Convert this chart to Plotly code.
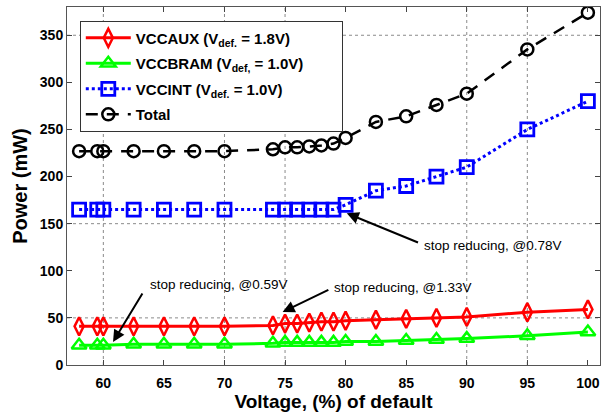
import plotly.graph_objects as go

voltage = [58, 59.5, 60, 62.5, 65, 67.5, 70, 74, 75, 76, 77, 78, 79, 80, 82.5, 85, 87.5, 90, 95, 100]
vccaux = [41, 41, 41, 41, 41, 41, 41, 42, 44, 44, 45, 46, 46, 47, 48, 49, 50, 51, 56, 59]
vccbram = [21, 21, 21, 22, 22, 22, 22, 23, 24, 24, 24, 24, 24, 25, 25, 26, 27, 28, 31, 35]
vccint = [165, 165, 165, 165, 165, 165, 165, 165, 165, 165, 165, 165, 165, 170, 185, 190, 200, 210, 250, 280]
total = [227, 227, 227, 227, 227, 227, 227, 229, 231, 231, 232, 233, 235, 241, 258, 264, 276, 288, 335, 374]

x_ticks = [60, 65, 70, 75, 80, 85, 90, 95, 100]
y_ticks = [0, 50, 100, 150, 200, 250, 300, 350]
x_grid = [60, 70, 75, 90, 95]
y_grid = [50, 150, 350]

notes = ["stop reducing, @0.78V", "stop reducing, @0.59V", "stop reducing, @1.33V"]
note_pos = [(86.3, 127), (63.7, 85), (78.9, 82)]
arrow_tail = [(86.1, 129.4), (63.3, 77.4), (78.7, 80.6)]
arrow_tip = [(80.1, 161), (60.8, 24.4), (74.8, 56.2)]

FONT = "Arial, Liberation Sans, sans-serif"
PAD = "&nbsp;" * 8

fig = go.Figure()
fig.add_trace(go.Scatter(
    x=voltage, y=vccaux, mode="lines+markers", legendgroup="a",
    name="VCCAUX (V<sub>def.</sub> = 1.8V)",
    line=dict(color="#ff0000", width=3),
    marker=dict(symbol="diamond-tall-open", size=13, color="#ff0000", line=dict(width=2.5, color="#ff0000")),
))
fig.add_trace(go.Scatter(
    x=voltage, y=vccbram, mode="lines+markers", legendgroup="b",
    name="VCCBRAM (V<sub>def,</sub> = 1.0V)" + PAD,
    line=dict(color="#00ff00", width=3),
    marker=dict(symbol="triangle-up-open", size=13, color="#00ff00", line=dict(width=2.5, color="#00ff00")),
))
fig.add_trace(go.Scatter(
    x=voltage, y=vccint, mode="lines+markers", legendgroup="c",
    name="VCCINT (V<sub>def.</sub> = 1.0V)",
    line=dict(color="#0000ff", width=3, dash="dot"),
    marker=dict(symbol="square-open", size=13, color="#0000ff", line=dict(width=2.8, color="#0000ff")),
))
fig.add_trace(go.Scatter(
    x=voltage, y=total, mode="lines+markers", legendgroup="d",
    name="Total",
    line=dict(color="#000000", width=2.5, dash="12px,9px"),
    marker=dict(symbol="circle-open", size=12, color="#000000", line=dict(width=2.5, color="#000000")),
))

shapes = []
for gx in x_grid:
    shapes.append(dict(type="line", xref="x", yref="paper", x0=gx, x1=gx, y0=0, y1=1,
                       line=dict(color="#8a8a8a", width=1, dash="dot"), layer="below"))
for gy in y_grid:
    shapes.append(dict(type="line", xref="paper", yref="y", x0=0, x1=1, y0=gy, y1=gy,
                       line=dict(color="#8a8a8a", width=1, dash="dot"), layer="below"))

annotations = []
for (tx, ty), (hx, hy) in zip(arrow_tail, arrow_tip):
    annotations.append(dict(x=hx, y=hy, ax=tx, ay=ty, xref="x", yref="y", axref="x", ayref="y",
                            text="", showarrow=True, arrowhead=2, arrowsize=1.2, arrowwidth=2,
                            arrowcolor="#000000", standoff=0, startstandoff=0))
for txt, (nx, ny) in zip(notes, note_pos):
    annotations.append(dict(x=nx, y=ny, xref="x", yref="y", text=txt, showarrow=False,
                            xanchor="left", yanchor="middle",
                            font=dict(family=FONT, size=13.5, color="#000000")))

fig.update_layout(
    width=613, height=412,
    margin=dict(l=67, r=13, t=7, b=47),
    paper_bgcolor="white", plot_bgcolor="white",
    font=dict(family=FONT, color="#000000"),
    showlegend=True,
    legend=dict(x=0.024, y=0.962, xanchor="left", yanchor="top",
                bgcolor="white", bordercolor="#333333", borderwidth=1,
                font=dict(family=FONT, size=15, color="#000000", weight="bold"),
                tracegroupgap=3, itemwidth=45),
    shapes=shapes,
    annotations=annotations,
    xaxis=dict(range=[57, 101], tickvals=x_ticks, showgrid=False, zeroline=False, automargin=False,
               ticks="inside", ticklen=5, tickcolor="#444444", mirror="ticks",
               showline=True, linecolor="#555555", linewidth=1, ticklabelstandoff=5,
               tickfont=dict(family=FONT, size=14, color="#000000", weight="bold"),
               title=dict(text="Voltage, (%) of default", standoff=4,
                          font=dict(family=FONT, size=19, color="#000000", weight="bold"))),
    yaxis=dict(range=[0, 380], tickvals=y_ticks, showgrid=False, zeroline=False, automargin=False,
               ticks="inside", ticklen=5, tickcolor="#444444", mirror="ticks",
               showline=True, linecolor="#555555", linewidth=1,
               tickfont=dict(family=FONT, size=14, color="#000000", weight="bold"),
               title=dict(text="Power (mW)", standoff=6,
                          font=dict(family=FONT, size=20, color="#000000", weight="bold"))),
)

fig.write_html("out.html", config={"displayModeBar": False},
               post_script="document.body.style.margin='0px';")
